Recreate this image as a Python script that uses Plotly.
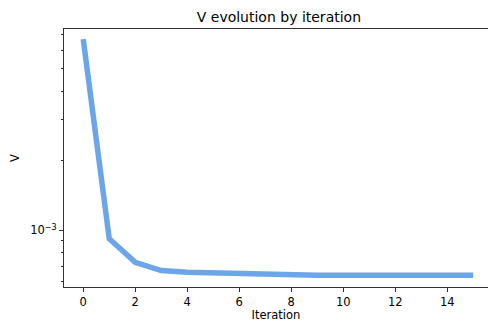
import plotly.graph_objects as go

iterations = list(range(16))
v_values = [6.7e-3, 9.2e-4, 7.27e-4, 6.7e-4, 6.59e-4, 6.54e-4, 6.5e-4, 6.46e-4,
            6.42e-4, 6.4e-4, 6.39e-4, 6.39e-4, 6.39e-4, 6.39e-4, 6.39e-4, 6.39e-4]
x_ticks = [0, 2, 4, 6, 8, 10, 12, 14]
y_major = [1e-3]
y_major_text = ["10<sup>\u22123</sup>"]
y_minor = [6e-4, 7e-4, 8e-4, 9e-4, 2e-3, 3e-3, 4e-3, 5e-3, 6e-3, 7e-3]

fig = go.Figure()
fig.add_trace(go.Scatter(x=iterations, y=v_values, mode="lines",
                         line=dict(color="#6ca6e8", width=5.5), showlegend=False))

font = "DejaVu Sans, sans-serif"
fig.update_layout(
    width=488, height=322,
    margin=dict(l=64, r=0, t=29, b=35),
    plot_bgcolor="white", paper_bgcolor="white",
    font=dict(family=font, size=11.5, color="black"),
    title=dict(text="V evolution by iteration", x=0.5715, xanchor="center",
               y=1 - 17 / 322, yanchor="middle", font=dict(size=14, family=font)),
    xaxis=dict(range=[-0.74, 15.57], tickvals=x_ticks, ticks="outside", ticklen=4,
               tickcolor="#333", showline=True, linecolor="#333", linewidth=1,
               mirror=True, showgrid=False, zeroline=False,
               title=dict(text="Iteration", standoff=3, font=dict(size=11.5))),
    yaxis=dict(type="log", range=[-3.245, -2.130], tickvals=y_major, ticktext=y_major_text,
               ticks="outside", ticklen=4, tickcolor="#333", showline=True,
               linecolor="#333", linewidth=1, showgrid=False, zeroline=False,
               minor=dict(tickvals=y_minor, ticks="outside", ticklen=2.5, tickcolor="#333",
                          showgrid=False),
               title=dict(text="V", standoff=8, font=dict(size=11.5))),
)

fig.write_html("out.html")
